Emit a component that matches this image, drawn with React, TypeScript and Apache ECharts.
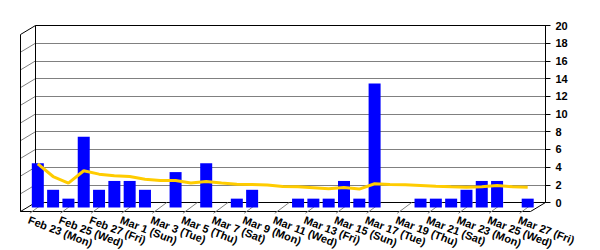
import React, { useEffect, useRef } from "react";
import * as echarts from "echarts";

const categories: string[] = [
  "Feb 23 (Mon)", "Feb 24 (Tue)", "Feb 25 (Wed)", "Feb 26 (Thu)", "Feb 27 (Fri)", "Feb 28 (Sat)",
  "Mar 1 (Sun)", "Mar 2 (Mon)", "Mar 3 (Tue)", "Mar 4 (Wed)", "Mar 5 (Thu)", "Mar 6 (Fri)",
  "Mar 7 (Sat)", "Mar 8 (Sun)", "Mar 9 (Mon)", "Mar 10 (Tue)", "Mar 11 (Wed)", "Mar 12 (Thu)",
  "Mar 13 (Fri)", "Mar 14 (Sat)", "Mar 15 (Sun)", "Mar 16 (Mon)", "Mar 17 (Tue)", "Mar 18 (Wed)",
  "Mar 19 (Thu)", "Mar 20 (Fri)", "Mar 21 (Sat)", "Mar 22 (Sun)", "Mar 23 (Mon)", "Mar 24 (Tue)",
  "Mar 25 (Wed)", "Mar 26 (Thu)", "Mar 27 (Fri)",
];

const barValues: number[] = [
  5, 2, 1, 8, 2, 3, 3, 2, 0, 4, 0, 5, 0, 1, 2, 0, 0,
  1, 1, 1, 3, 1, 14, 0, 0, 1, 1, 1, 2, 3, 3, 0, 1,
];

const lineValues: number[] = [
  4.94, 3.5, 2.76, 4.15, 3.77, 3.6, 3.5, 3.2, 3.05, 3.05, 2.76, 2.94, 2.76, 2.64, 2.6, 2.53, 2.37,
  2.34, 2.23, 2.11, 2.26, 2.08, 2.68, 2.6, 2.56, 2.49, 2.41, 2.34, 2.3, 2.34, 2.49, 2.34, 2.3,
];

const yMin = 0;
const yMax = 20;
const yStep = 2;
const yTicks: number[] = [0, 2, 4, 6, 8, 10, 12, 14, 16, 18, 20];

const DX = -15;
const DY = 9;
const FONT = "'Liberation Sans', Arial, sans-serif";

function seg(x1: number, y1: number, x2: number, y2: number, stroke: string) {
  return {
    type: "line",
    shape: { x1, y1, x2, y2 },
    style: { stroke, lineWidth: 1 },
  };
}

export default function App() {
  const ref = useRef<HTMLDivElement>(null);

  useEffect(() => {
    document.body.style.margin = "0";
    if (!ref.current) return;
    const chart = echarts.init(ref.current, undefined, { renderer: "svg" });

    const splitColors = yTicks.map((v, i) =>
      i === 0 || i === yTicks.length - 1 ? "#000000" : "#808080"
    );

    const option: any = {
      animation: false,
      backgroundColor: "#ffffff",
      grid: [
        { left: 35.5, top: 25.5, width: 510, height: 177 },
        { left: 30.15, top: 30.5, width: 505.2, height: 177 },
        { left: 21.15, top: 34.5, width: 505.2, height: 177 },
      ],
      xAxis: [
        { type: "category", gridIndex: 0, data: categories, show: false },
        { type: "category", gridIndex: 1, data: categories, show: false },
        {
          type: "category",
          gridIndex: 2,
          data: categories,
          axisLine: { show: false },
          axisTick: { show: false },
          axisLabel: {
            interval: 1,
            rotate: -21,
            margin: 8,
            fontSize: 11,
            fontWeight: "bold",
            fontFamily: FONT,
            color: "#000",
          },
        },
      ],
      yAxis: [
        {
          type: "value",
          gridIndex: 0,
          position: "right",
          min: yMin,
          max: yMax,
          interval: yStep,
          axisLine: { show: true, lineStyle: { color: "#000", width: 1 } },
          axisTick: { show: true, length: 5, lineStyle: { color: "#000" } },
          axisLabel: {
            margin: 10,
            fontSize: 11,
            fontWeight: "bold",
            fontFamily: FONT,
            color: "#000",
          },
          splitLine: { show: true, lineStyle: { color: splitColors, width: 1 } },
        },
        { type: "value", gridIndex: 1, min: yMin, max: yMax, interval: yStep, show: false },
        { type: "value", gridIndex: 2, min: yMin, max: yMax, interval: yStep, show: false },
      ],
      series: [
        {
          type: "custom",
          name: "frame",
          xAxisIndex: 0,
          yAxisIndex: 0,
          silent: true,
          z: 1,
          data: [[0, 0]],
          renderItem: (_params: any, api: any) => {
            const bw = api.size([1, 0])[0];
            const first = api.coord([0, yMin]);
            const last = api.coord([categories.length - 1, yMin]);
            const left = first[0] - bw / 2;
            const right = last[0] + bw / 2;
            const y0 = first[1];
            const yTop = api.coord([0, yMax])[1];
            const children: any[] = [];
            yTicks.forEach((v, i) => {
              const y = api.coord([0, v])[1];
              const edge = i === 0 || i === yTicks.length - 1;
              children.push(seg(left, y, left + DX, y + DY, edge ? "#000" : "#808080"));
            });
            children.push(seg(left, yTop, left, y0, "#000"));
            children.push(seg(left + DX, yTop + DY, left + DX, y0 + DY, "#000"));
            children.push(seg(left + DX, y0 + DY, right + DX, y0 + DY, "#000"));
            children.push(seg(right, y0, right + DX, y0 + DY, "#000"));
            return { type: "group", children };
          },
        },
        {
          type: "custom",
          name: "ticks",
          xAxisIndex: 1,
          yAxisIndex: 1,
          silent: true,
          z: 1,
          data: categories.map((_c, i) => [i, 0]).filter((_d, i) => i % 2 === 0),
          renderItem: (_params: any, api: any) => {
            const p = api.coord([api.value(0), 0]);
            const cx = p[0];
            const y0 = p[1];
            return seg(cx + 6.5, y0 - 5, cx - 8, y0 + 5.8, "#808080");
          },
        },
        {
          type: "bar",
          name: "count",
          xAxisIndex: 1,
          yAxisIndex: 1,
          data: barValues,
          barWidth: 12,
          itemStyle: { color: "#0000FF" },
          z: 2,
        },
        {
          type: "line",
          name: "average",
          xAxisIndex: 1,
          yAxisIndex: 1,
          data: lineValues,
          showSymbol: false,
          lineStyle: { color: "#FFCC00", width: 3 },
          itemStyle: { color: "#FFCC00" },
          z: 3,
        },
      ],
    };

    chart.setOption(option);
    return () => {
      chart.dispose();
    };
  }, []);

  return <div ref={ref} style={{ width: 600, height: 250 }} />;
}
